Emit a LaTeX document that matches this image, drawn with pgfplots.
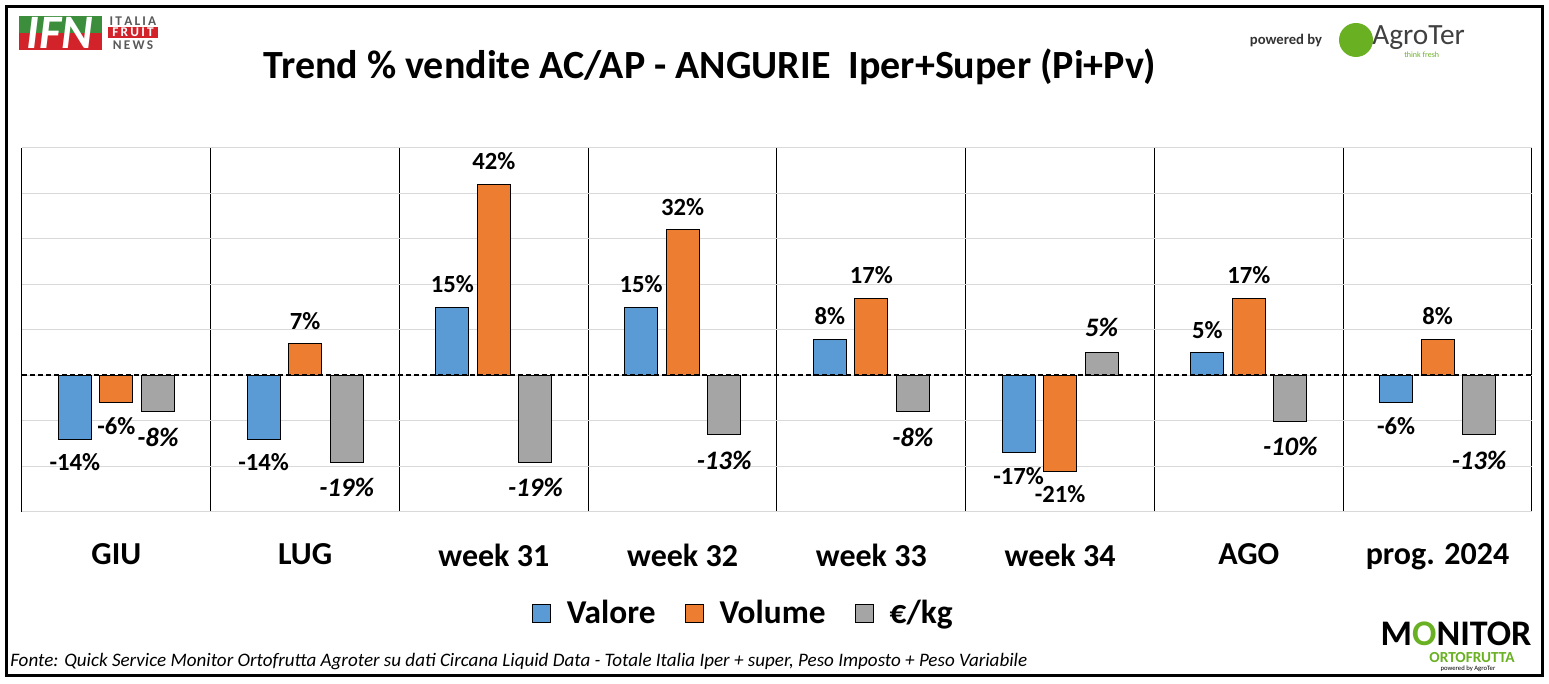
\documentclass[border=0pt]{standalone}
\usepackage{fontspec}
\setmainfont{Carlito}
\usepackage{pgfplots}
\usepackage{pgfplotstable}
\pgfplotsset{compat=1.18}

\definecolor{cval}{HTML}{5B9BD5}
\definecolor{cvol}{HTML}{ED7D31}
\definecolor{ckg}{HTML}{A5A5A5}
\definecolor{ifngreen}{HTML}{3C8D3C}
\definecolor{ifnred}{HTML}{D2232A}
\definecolor{agrogreen}{HTML}{6AB023}

% trend % AC/AP per period
\pgfplotstableread{
x valore volume kg
0 -14 -6 -8
1 -14 7 -19
2 15 42 -19
3 15 32 -13
4 8 17 -8
5 -17 -21 5
6 5 17 -10
7 -6 8 -13
}\trenddata

\begin{document}
\begin{tikzpicture}[x=0.75pt,y=0.75pt]
\path[use as bounding box] (0,0) rectangle (1549,684);
\draw[line width=2.25pt] (6,8) rectangle (1542,677);

% header
\node[font=\bfseries\fontsize{30}{34}\selectfont] at (710,617) {Trend \% vendite AC/AP - ANGURIE\ \ Iper+Super (Pi+Pv)};
\fill[ifngreen] (19,651) rectangle (102,668);
\fill[ifnred] (19,634) rectangle (102,651);
\node[text=white, font=\bfseries\itshape\fontsize{36}{36}\selectfont] at (60,651) {IFN};
\node[inner sep=0pt, text=gray!70!black, font=\bfseries\fontsize{10}{10}\selectfont] at (133,663) {I\,T\,A\,L\,I\,A};
\fill[ifnred] (108,646) rectangle (158,657);
\node[inner sep=0pt, text=white, font=\bfseries\fontsize{10}{10}\selectfont] at (133,651.5) {F\,R\,U\,I\,T};
\node[inner sep=0pt, text=gray!70!black, font=\bfseries\fontsize{10}{10}\selectfont] at (133,639) {N\,E\,W\,S};
\node[text=black!80, font=\bfseries\fontsize{11}{11}\selectfont] at (1286,643) {powered by};
\fill[agrogreen] (1356,644) circle (17);
\node[inner sep=0pt, text=black!75, anchor=west, font=\fontsize{22}{22}\selectfont] at (1372,646) {AgroTer};
\node[inner sep=0pt, text=agrogreen, anchor=west, font=\fontsize{6}{6}\selectfont] at (1404,629) {think fresh};

% footer
\node[anchor=west, font=\itshape\fontsize{14.3}{16}\selectfont, inner sep=0pt] at (10,22) {Fonte: Quick Service Monitor Ortofrutta Agroter su dati Circana Liquid Data - Totale Italia Iper + super, Peso Imposto + Peso Variabile};
\node[inner sep=0pt, anchor=base, font=\bfseries\fontsize{27}{27}\selectfont] at (1456,38) {M\textcolor{agrogreen}{O}NITOR};
\node[inner sep=0pt, anchor=north, text=agrogreen, font=\bfseries\fontsize{11.5}{12}\selectfont] at (1472,32) {ORTOFRUTTA};
\node[inner sep=0pt, font=\fontsize{5}{5}\selectfont] at (1468,15) {powered by AgroTer};

\begin{axis}[
  at={(16.5pt,129pt)}, anchor=south west,
  scale only axis, width=1132.5pt, height=273pt,
  xmin=-0.5, xmax=7.5, ymin=-30, ymax=50,
  ytick={-30,-20,...,50}, yticklabels={},
  ymajorgrids, grid style={gray!30, line width=0.75pt},
  xtick={0,...,7},
  xticklabels={GIU,LUG,week 31,week 32,week 33,week 34,AGO,prog. 2024},
  minor xtick={-0.5,0.5,...,7.5},
  xminorgrids, minor x grid style={black, line width=0.75pt},
  axis line style={draw=none},
  major tick style={draw=none}, minor tick style={draw=none},
  xticklabel style={font=\bfseries\fontsize{24}{28}\selectfont, yshift=-16pt},
  ybar, bar width=0.175,
  nodes near coords={\pgfmathprintnumber[fixed,precision=0,assume math mode=true]{\pgfplotspointmeta}\%},
  every node near coord/.append style={font=\bfseries\fontsize{18.5}{20}\selectfont, text=black, inner sep=10.5pt},
  legend style={at={(0.478,0)}, anchor=center, yshift=-75.75pt, draw=none, fill=none,
    legend columns=-1, font=\bfseries\fontsize{25}{28}\selectfont,
    /tikz/every odd column/.append style={column sep=10pt},
    /tikz/every even column/.append style={column sep=20pt}},
  legend image code/.code={\draw[#1, draw=black, line width=0.5pt] (0pt,-6.75pt) rectangle (13.5pt,6.75pt);},
]
\addplot[fill=cval, draw=black, line width=0.6pt, bar shift=-0.22] table[x=x, y=valore] {\trenddata};
\addplot[fill=cvol, draw=black, line width=0.6pt, bar shift=0] table[x=x, y=volume] {\trenddata};
\addplot[fill=ckg, draw=black, line width=0.6pt, bar shift=0.22,
  every node near coord/.append style={font=\bfseries\itshape\fontsize{20}{22}\selectfont, inner sep=12pt}] table[x=x, y=kg] {\trenddata};
\draw[black, line width=1.5pt, dash pattern=on 3.75pt off 2.25pt] (axis cs:-0.5,0) -- (axis cs:7.5,0);
\legend{Valore, Volume, €/kg}
\end{axis}
\end{tikzpicture}
\end{document}
